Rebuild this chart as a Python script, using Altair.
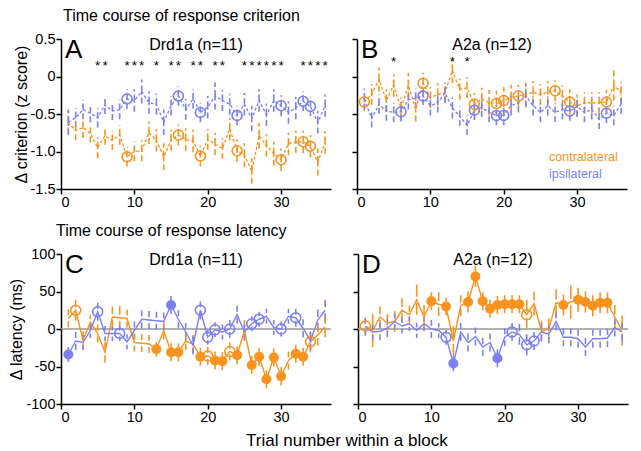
import altair as alt
import pandas as pd

FONT = "Liberation Sans"
ORANGE = "#F7931E"
BLUE = "#7B80F2"
W, H = 270, 150
XMAX = 36.8

trials = list(range(1, 37))

# ---------------- Panel A: criterion, Drd1a ----------------
A_contra = [-0.61, -0.72, -0.68, -0.76, -0.95, -0.79, -0.85, -0.78, -1.07, -1.00, -0.99, -0.75,
            -0.85, -1.07, -0.85, -0.78, -0.84, -0.86, -1.06, -0.84, -0.90, -0.96, -0.70, -0.99,
            -1.05, -1.26, -0.79, -0.92, -1.03, -1.11, -0.90, -0.87, -0.87, -0.93, -1.14, -0.88]
A_ipsi = [-0.61, -0.55, -0.44, -0.49, -0.55, -0.38, -0.46, -0.44, -0.30, -0.32, -0.20, -0.35,
          -0.37, -0.61, -0.39, -0.26, -0.44, -0.30, -0.48, -0.41, -0.26, -0.32, -0.37, -0.52,
          -0.37, -0.56, -0.32, -0.51, -0.32, -0.39, -0.48, -0.42, -0.33, -0.40, -0.61, -0.39]
A_contra_err = [0.15, 0.13, 0.14, 0.12, 0.14, 0.12, 0.13, 0.13, 0.13, 0.13, 0.14, 0.15,
                0.15, 0.18, 0.14, 0.14, 0.15, 0.15, 0.14, 0.14, 0.15, 0.14, 0.15, 0.15,
                0.16, 0.17, 0.17, 0.15, 0.16, 0.15, 0.15, 0.15, 0.15, 0.15, 0.18, 0.15]
A_ipsi_err = [0.17, 0.13, 0.13, 0.12, 0.13, 0.12, 0.12, 0.13, 0.13, 0.15, 0.16, 0.15,
              0.14, 0.17, 0.13, 0.13, 0.14, 0.13, 0.13, 0.15, 0.18, 0.14, 0.14, 0.13,
              0.15, 0.17, 0.15, 0.15, 0.15, 0.14, 0.15, 0.15, 0.13, 0.13, 0.15, 0.15]
A_open_contra = [9, 16, 19, 24, 30, 33, 34]
A_open_ipsi = [9, 16, 19, 24, 30, 33, 34]
A_stars = [5, 6, 9, 10, 11, 13, 15, 16, 18, 19, 21, 22, 25, 26, 27, 28, 29, 30, 33, 34, 35, 36]

# ---------------- Panel B: criterion, A2a ----------------
B_contra = [-0.34, -0.24, -0.04, -0.32, -0.12, -0.42, -0.12, -0.44, -0.09, -0.28, -0.24, -0.21,
            0.08, -0.17, -0.15, -0.37, -0.30, -0.35, -0.36, -0.32, -0.28, -0.26, -0.24, -0.21,
            -0.24, -0.21, -0.19, -0.26, -0.34, -0.39, -0.35, -0.35, -0.35, -0.34, -0.12, -0.21]
B_ipsi = [-0.30, -0.56, -0.37, -0.46, -0.48, -0.47, -0.31, -0.29, -0.26, -0.39, -0.35, -0.22,
          -0.42, -0.53, -0.65, -0.45, -0.41, -0.48, -0.52, -0.52, -0.39, -0.35, -0.26, -0.39,
          -0.48, -0.39, -0.48, -0.44, -0.46, -0.40, -0.48, -0.44, -0.57, -0.49, -0.52, -0.37]
B_contra_err = [0.12, 0.14, 0.16, 0.15, 0.15, 0.14, 0.17, 0.16, 0.14, 0.14, 0.15, 0.13,
                0.17, 0.14, 0.14, 0.15, 0.15, 0.17, 0.17, 0.18, 0.17, 0.15, 0.16, 0.15,
                0.14, 0.15, 0.14, 0.14, 0.17, 0.15, 0.14, 0.14, 0.14, 0.16, 0.20, 0.14]
B_ipsi_err = [0.14, 0.12, 0.13, 0.13, 0.13, 0.13, 0.13, 0.13, 0.12, 0.13, 0.13, 0.13,
              0.14, 0.13, 0.13, 0.13, 0.13, 0.13, 0.13, 0.13, 0.13, 0.13, 0.15, 0.13,
              0.13, 0.13, 0.13, 0.13, 0.13, 0.13, 0.13, 0.13, 0.13, 0.13, 0.13, 0.13]
B_open_contra = [1, 9, 16, 19, 20, 22, 27, 29, 34]
B_open_ipsi = [6, 9, 16, 19, 20, 29, 34]
B_stars = [5, 13, 15]

# ---------------- Panel C: latency, Drd1a ----------------
C_contra = [14, 25, -15, 9, -6, -31, 16, 15, 14, -18, -19, -20, -27, -2, -31, -31, -16, -20,
            -37, -36, -42, -43, -30, -35, -2, -48, -37, -67, -38, -63, -42, -33, -37, -17, -8, 3]
C_ipsi = [-34, -16, -18, -2, 23, -6, -6, -6, -17, -2, 13, 12, 11, 10, 32, 13, -4, -22,
          25, -11, -1, -4, 0, 19, -4, 7, 13, 17, 2, 0, 17, 15, 1, -16, 12, 25]
C_contra_err = [12, 14, 12, 10, 12, 14, 14, 16, 12, 12, 12, 12, 10, 12, 12, 12, 12, 12,
                12, 12, 12, 12, 12, 12, 14, 12, 12, 12, 12, 12, 12, 12, 12, 14, 14, 14]
C_ipsi_err = [10, 12, 10, 10, 12, 10, 10, 10, 10, 12, 12, 12, 12, 12, 12, 12, 12, 12,
              12, 10, 10, 10, 12, 12, 10, 10, 10, 10, 10, 10, 10, 12, 12, 12, 14, 14]
C_filled_contra = [13, 15, 16, 19, 21, 22, 24, 26, 27, 28, 29, 30, 32, 33]
C_open_contra = [2, 20, 23, 34]
C_filled_ipsi = [1, 15]
C_open_ipsi = [5, 8, 19, 20, 21, 23, 26, 27, 30, 32]

# ---------------- Panel D: latency, A2a ----------------
D_contra = [4, -2, 16, 8, 10, 25, 19, 39, 16, 37, 33, 30, -16, 31, 36, 70, 37, 27,
            32, 33, 33, 33, 19, 34, -3, 0, 35, 32, 36, 39, 36, 31, 35, 35, 16, -2]
D_ipsi = [3, -4, -3, 1, 10, 4, 7, -2, 7, 0, -2, -11, -46, -4, -18, -10, -24, -18,
          -39, -11, -4, -7, -21, -16, -4, -7, 10, -11, -11, -13, -24, -13, -13, -12, 2, -4]
D_contra_err = [10, 22, 14, 12, 14, 16, 12, 20, 16, 12, 16, 12, 20, 14, 14, 14, 12, 12,
                12, 12, 12, 12, 20, 16, 14, 14, 18, 14, 22, 16, 14, 14, 14, 14, 16, 20]
D_ipsi_err = [12, 10, 12, 12, 10, 10, 10, 10, 10, 12, 10, 10, 10, 12, 12, 12, 12, 12,
              12, 12, 12, 14, 14, 12, 12, 12, 12, 12, 12, 12, 12, 12, 12, 12, 12, 12]
D_filled_contra = [10, 12, 15, 16, 17, 18, 19, 20, 21, 22, 28, 30, 31, 32, 33, 34]
D_open_contra = [1, 23]
D_filled_ipsi = [13, 19]
D_open_ipsi = [12, 21, 23, 24]

x_ticks = [0, 10, 20, 30]
crit_ticks = [0.5, 0, -0.5, -1.0, -1.5]
lat_ticks = [100, 50, 0, -50, -100]


def make_df(contra, ipsi, ce, ie, filled_c, open_c, filled_i, open_i, gap):
    rows = []
    for grp, vals, errs, fl, op in (("contra", contra, ce, filled_c, open_c),
                                    ("ipsi", ipsi, ie, filled_i, open_i)):
        for t, v, e in zip(trials, vals, errs):
            m = "filled" if t in fl else ("open" if t in op else "none")
            rows.append(dict(t=t, v=v, group=grp, marker=m,
                             lo1=v - e, hi1=v - gap, lo2=v + gap, hi2=v + e))
    return pd.DataFrame(rows)


color = alt.Color("group:N", scale=alt.Scale(domain=["contra", "ipsi"], range=[ORANGE, BLUE]), legend=None)


def panel(df, ydom, yticks, show_labels, ytitle, label_expr, letter, subtitle,
          stars, star_y, dashed, zero_line, legend=False):
    xs = alt.X("t:Q", scale=alt.Scale(domain=[0, XMAX], nice=False, zero=False),
               axis=alt.Axis(values=x_ticks, title=None, format="d"))
    yaxis = alt.Axis(values=yticks, labels=show_labels, title=ytitle if show_labels else None,
                     labelExpr=label_expr, labelOverlap=False)
    yscale = alt.Scale(domain=ydom, nice=False, zero=False)
    ys = alt.Y("v:Q", scale=yscale, axis=yaxis)
    base = alt.Chart(df)
    layers = []
    if zero_line:
        layers.append(alt.Chart(pd.DataFrame({"z": [0]})).mark_rule(color="#999999", strokeWidth=1.5)
                      .encode(y=alt.Y("z:Q", scale=yscale, axis=yaxis)))
    dash_kw = dict(strokeDash=[6, 3]) if dashed else {}
    layers.append(base.mark_rule(strokeWidth=1.6, **dash_kw).encode(
        x=xs, y=alt.Y("lo1:Q", scale=yscale, axis=yaxis), y2="hi1:Q", color=color))
    layers.append(base.mark_rule(strokeWidth=1.6, **dash_kw).encode(
        x=xs, y=alt.Y("lo2:Q", scale=yscale, axis=yaxis), y2="hi2:Q", color=color))
    line_kw = dict(strokeDash=[3, 2], strokeWidth=1.3) if dashed else dict(strokeWidth=1.4)
    layers.append(base.mark_line(**line_kw).encode(x=xs, y=ys, color=color, detail="group:N"))
    layers.append(base.transform_filter("datum.marker == 'open'").mark_point(
        shape="circle", filled=False, size=100, strokeWidth=1.6, opacity=1).encode(x=xs, y=ys, color=color))
    layers.append(base.transform_filter("datum.marker == 'filled'").mark_circle(
        size=100, opacity=1).encode(x=xs, y=ys, color=color))
    if stars:
        sdf = pd.DataFrame({"t": stars, "v": [star_y] * len(stars)})
        layers.append(alt.Chart(sdf).mark_text(text="*", font=FONT, fontSize=13.5, color="black", baseline="middle")
                      .encode(x=xs, y=ys))
    layers.append(alt.Chart(pd.DataFrame({"s": [letter]})).mark_text(
        font=FONT, fontSize=26, align="left", baseline="top", color="black")
        .encode(x=alt.value(4), y=alt.value(-2), text="s:N"))
    layers.append(alt.Chart(pd.DataFrame({"s": [subtitle]})).mark_text(
        font=FONT, fontSize=16, align="center", baseline="middle", color="black")
        .encode(x=alt.value(W / 2), y=alt.value(5.5), text="s:N"))
    if legend:
        ldf = pd.DataFrame({"s": ["contralateral", "ipsilateral"], "group": ["contra", "ipsi"],
                            "yy": [118, 135]})
        layers.append(alt.Chart(ldf).mark_text(font=FONT, fontSize=12.5, align="left", baseline="middle")
                      .encode(x=alt.value(192), y=alt.Y("yy:Q", scale=None), text="s:N", color=color))
    return alt.layer(*layers).properties(width=W, height=H)


crit_expr = "datum.value == 0 ? '0' : (datum.value < 0 ? '-' : '') + format(abs(datum.value), '.1f')"
lat_expr = "(datum.value < 0 ? '-' : '') + format(abs(datum.value), 'd')"

dfA = make_df(A_contra, A_ipsi, A_contra_err, A_ipsi_err, [], A_open_contra, [], A_open_ipsi, 0)
dfB = make_df(B_contra, B_ipsi, B_contra_err, B_ipsi_err, [], B_open_contra, [], B_open_ipsi, 0)
dfC = make_df(C_contra, C_ipsi, C_contra_err, C_ipsi_err, C_filled_contra, C_open_contra,
              C_filled_ipsi, C_open_ipsi, 4)
dfD = make_df(D_contra, D_ipsi, D_contra_err, D_ipsi_err, D_filled_contra, D_open_contra,
              D_filled_ipsi, D_open_ipsi, 4)

pA = panel(dfA, [-1.5, 0.5], crit_ticks, True, "\u0394 criterion (z score)", crit_expr, "A",
           "Drd1a (n=11)", A_stars, 0.135, True, False)
pB = panel(dfB, [-1.5, 0.5], crit_ticks, False, None, crit_expr, "B",
           "A2a (n=12)", B_stars, 0.195, True, False, legend=True)
pC = panel(dfC, [-100, 100], lat_ticks, True, "\u0394 latency (ms)", lat_expr, "C",
           "Drd1a (n=11)", [], 0, False, True)
pD = panel(dfD, [-100, 100], lat_ticks, False, None, lat_expr, "D",
           "A2a (n=12)", [], 0, False, True)

title_kw = dict(anchor="start", font=FONT, fontSize=16, fontWeight="normal", color="black")
row1 = alt.hconcat(pA, pB, spacing=20).properties(
    title=alt.TitleParams("Time course of response criterion", dx=50, offset=7, **title_kw))
row2 = alt.hconcat(pC, pD, spacing=20).properties(
    title=alt.TitleParams("Time course of response latency", dx=47, offset=7, **title_kw))

chart = alt.vconcat(row1, row2, spacing=14).properties(
    title=alt.TitleParams("Trial number within a block", orient="bottom", anchor="middle", dx=28,
                          offset=9, font=FONT, fontSize=17, fontWeight="normal", color="black"),
    padding={"left": 0, "top": 0, "right": 0, "bottom": 0},
).configure_view(stroke=None).configure_axis(
    labelFont=FONT, labelFontSize=14.5, labelColor="black", titleFont=FONT, titleFontSize=16,
    titleFontWeight="normal", titleColor="black", domainColor="black", domainWidth=1.5,
    tickColor="black", tickWidth=1.5, tickSize=5, grid=False, labelPadding=1, titlePadding=1,
    labelOverlap=False
)

chart.save("out.html", embed_options={"renderer": "svg", "actions": False})
